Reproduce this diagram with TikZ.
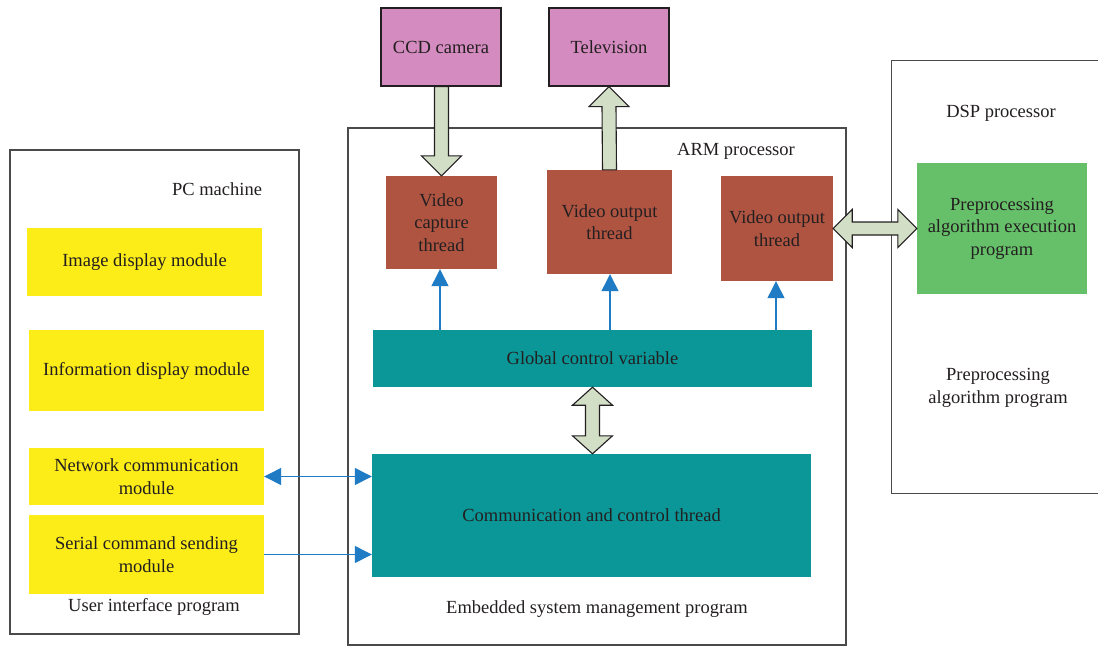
\documentclass[tikz,border=0pt]{standalone}
\usepackage{fontspec}
\setmainfont{Liberation Serif}
\usetikzlibrary{calc,arrows.meta}

\definecolor{txt}{HTML}{231F20}
\definecolor{frame}{HTML}{4A4A4A}
\definecolor{pinkbox}{HTML}{D48BBF}
\definecolor{brickbox}{HTML}{B05442}
\definecolor{yellowbox}{HTML}{FCEC18}
\definecolor{tealbox}{HTML}{0B9797}
\definecolor{greenbox}{HTML}{66BF69}
\definecolor{fatfill}{HTML}{D3DEC6}
\definecolor{linkblue}{HTML}{1F7BC4}

\tikzset{
  every node/.style={font=\fontsize{18.5}{22.5}\selectfont, text=txt, align=center, inner sep=0pt},
  container/.style={draw=frame, line width=1.3pt, fill=white},
  devicebox/.style={draw=txt, line width=1.1pt, fill=pinkbox},
  threadbox/.style={fill=brickbox},
  modulebox/.style={fill=yellowbox},
  sharedbox/.style={fill=tealbox},
  dspbox/.style={fill=greenbox},
  fat/.style={draw=txt, line width=1.1pt, fill=fatfill, line join=miter},
  link/.style={draw=linkblue, line width=1.3pt, -{Triangle[length=17pt,width=17pt]}},
  biglink/.style={link, {Triangle[length=17pt,width=17pt]}-{Triangle[length=17pt,width=17pt]}},
}

\begin{document}
\begin{tikzpicture}[x=1pt, y=-1pt]
\useasboundingbox (0,0) rectangle (1098,646);
\clip (0,0) rectangle (1098,646);

% outer containers
\node[container, minimum width=289pt, minimum height=484pt] (pc) at (154.5,392) {};
\node[container, minimum width=498pt, minimum height=517pt] (arm) at (597,386.5) {};
\node[container, minimum width=230pt, minimum height=433pt, anchor=north west] (dsp) at (891,60) {};

% container captions
\node (pclabel) at (217,189) {PC machine};
\node (uilabel) at (154,607) {User interface program};
\node (armlabel) at (736,151) {ARM processor};
\node (emblabel) at (597,609) {Embedded system management program};
\node (dsplabel) at (1001,113) {DSP processor};
\node (prelabel) at (998,388) {Preprocessing\\algorithm program};

% PC modules
\node[modulebox, minimum width=235pt, minimum height=68pt] (img) at (144.5,262) {Image display module};
\node[modulebox, minimum width=235pt, minimum height=81pt] (info) at (146.5,370.5) {Information display module};
\node[modulebox, minimum width=235pt, minimum height=57pt] (net) at (146.5,476.5) {Network communication\\module};
\node[modulebox, minimum width=235pt, minimum height=79pt] (ser) at (146.5,554.5) {Serial command sending\\module};

% external devices
\node[devicebox, minimum width=120pt, minimum height=78pt] (ccd) at (441,47) {CCD camera};
\node[devicebox, minimum width=120pt, minimum height=78pt] (tv) at (609,47) {Television};

% ARM threads
\node[threadbox, minimum width=111pt, minimum height=93pt] (cap) at (441.5,222.5) {Video\\capture\\thread};
\node[threadbox, minimum width=125pt, minimum height=104pt] (vout) at (609.5,222) {Video output\\thread};
\node[threadbox, minimum width=112pt, minimum height=105pt] (vdsp) at (777,228.5) {Video output\\thread};
\node[sharedbox, minimum width=439pt, minimum height=57pt] (glob) at (592.5,358.5) {Global control variable};
\node[sharedbox, minimum width=439pt, minimum height=123pt] (comm) at (591.5,515.5) {Communication and control thread};

% DSP program
\node[dspbox, minimum width=170pt, minimum height=131pt] (pre) at (1002,228.5) {Preprocessing\\algorithm execution\\program};

% fat arrow: camera -> capture thread
\draw[fat]
  ($(cap.north |- ccd.south)+(-7,0)$) -- ($(cap.north)+(-7,-20)$) -- ($(cap.north)+(-20,-20)$)
  -- (cap.north) -- ($(cap.north)+(20,-20)$) -- ($(cap.north)+(7,-20)$)
  -- ($(cap.north |- ccd.south)+(7,0)$) -- cycle;

% fat arrow: output thread -> television
\draw[fat]
  ($(vout.north)+(-7,0)$) -- ($(tv.south)+(-7,20)$) -- ($(tv.south)+(-20,20)$)
  -- (tv.south) -- ($(tv.south)+(20,20)$) -- ($(tv.south)+(7,20)$)
  -- ($(vout.north)+(7,0)$) -- cycle;

% fat double arrow: output thread <-> DSP program
\draw[fat]
  (vdsp.east) -- ($(vdsp.east)+(19,-19)$) -- ($(vdsp.east)+(19,-6.5)$)
  -- ($(pre.west)+(-19,-6.5)$) -- ($(pre.west)+(-19,-19)$) -- (pre.west)
  -- ($(pre.west)+(-19,19)$) -- ($(pre.west)+(-19,6.5)$)
  -- ($(vdsp.east)+(19,6.5)$) -- ($(vdsp.east)+(19,19)$) -- cycle;

% fat double arrow: global variable <-> communication thread
\draw[fat]
  (glob.south) -- ($(glob.south)+(20,18)$) -- ($(glob.south)+(7,18)$)
  -- ($(glob.south |- comm.north)+(7,-18)$) -- ($(glob.south |- comm.north)+(20,-18)$)
  -- (glob.south |- comm.north)
  -- ($(glob.south |- comm.north)+(-20,-18)$) -- ($(glob.south |- comm.north)+(-7,-18)$)
  -- ($(glob.south)+(-7,18)$) -- ($(glob.south)+(-20,18)$) -- cycle;

% control links from the global variable to the threads
\draw[link] ($(glob.north)+(-152.5,0)$) coordinate (g1) -- (g1 |- cap.south);
\draw[link] ($(glob.north)+(17.5,0)$) coordinate (g2) -- (g2 |- vout.south);
\draw[link] ($(glob.north)+(183.5,0)$) coordinate (g3) -- (g3 |- vdsp.south);

% links between the PC modules and the communication thread
\draw[biglink] (net.east) -- (comm.west |- net.east);
\draw[link] (ser.east) -- (comm.west |- ser.east);
\end{tikzpicture}
\end{document}
